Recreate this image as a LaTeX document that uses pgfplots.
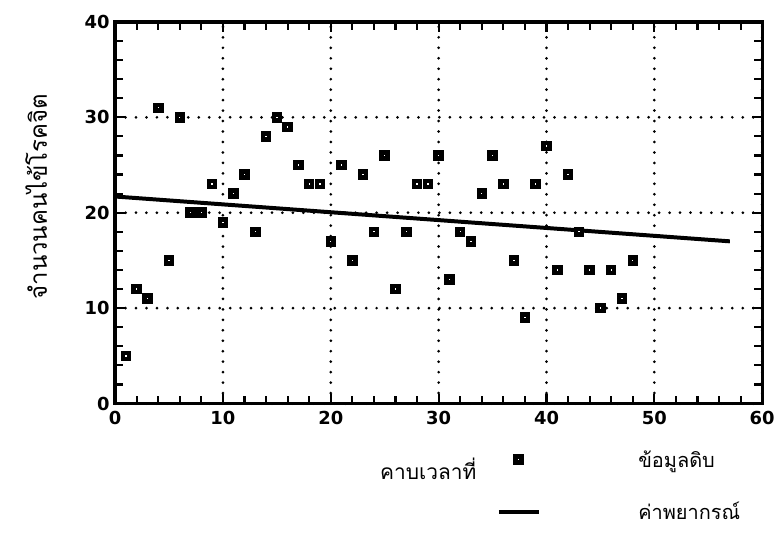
\documentclass[border=0pt]{standalone}
\usepackage{pgfplots}
\pgfplotsset{compat=1.18}
\usepackage{fontspec}
\setmainfont{DejaVu Sans}
\newfontfamily\thaifont[Script=Thai]{Loma}
\pgfplotsset{
  sqleg/.style={legend image code/.code={\draw[mark repeat=2,mark phase=2,##1] plot coordinates {(0pt,0pt) (20pt,0pt) (40pt,0pt)};}},
  lnleg/.style={legend image code/.code={\draw[##1] (0pt,0pt) -- (40pt,0pt);}},
}
\begin{document}
\begin{tikzpicture}
\begin{axis}[
  scale only axis,
  width=649.5pt, height=383pt,
  xmin=0, xmax=60, ymin=0, ymax=40,
  xtick={0,10,...,60}, ytick={0,10,...,40},
  minor x tick num=4, minor y tick num=4,
  tick align=inside,
  major tick length=10pt, minor tick length=8pt,
  every tick/.style={black, line width=2.2pt},
  axis line style={line width=3.4pt},
  grid=major,
  major grid style={black, line width=3pt, line cap=round, dash pattern=on 0pt off 10.5pt},
  /pgf/number format/assume math mode=true,
  tick label style={font=\bfseries\fontsize{18}{18}\selectfont},
  xticklabel style={yshift=-4pt},
  yticklabel style={xshift=-2pt},
  xlabel={\thaifont\fontsize{21}{21}\selectfont คาบเวลาที่},
  ylabel={\thaifont\fontsize{24}{24}\selectfont จำนวนคนไข้โรคจิต},
  x label style={at={(axis description cs:0.484,-0.17)}, anchor=center},
  y label style={at={(axis description cs:-0.122,0.542)}, anchor=center},
  legend style={at={(axis description cs:0.585,-0.112)}, anchor=north west, draw=none, fill=none,
    font=\thaifont\fontsize{20}{20}\selectfont, row sep=30pt,
    /tikz/every odd column/.append style={column sep=96pt}},
  legend cell align=left,
  clip=false,
]
\addplot[only marks, mark=square*, mark size=3pt, mark options={fill=white, draw=black, line width=4.6pt}, sqleg]
  coordinates {
(1,5)(2,12)(3,11)(4,31)(5,15)(6,30)(7,20)(8,20)(9,23)(10,19)(11,22)(12,24)
(13,18)(14,28)(15,30)(16,29)(17,25)(18,23)(19,23)(20,17)(21,25)(22,15)(23,24)(24,18)
(25,26)(26,12)(27,18)(28,23)(29,23)(30,26)(31,13)(32,18)(33,17)(34,22)(35,26)(36,23)
(37,15)(38,9)(39,23)(40,27)(41,14)(42,24)(43,18)(44,14)(45,10)(46,14)(47,11)(48,15)
  };
\addlegendentry{ข้อมูลดิบ}
\addplot[black, line width=4pt, lnleg]
  coordinates {(0,21.7)(57,17.0)};
\addlegendentry{ค่าพยากรณ์}
\end{axis}
\path (current axis.south west) ++(-115.5pt,-133pt) rectangle ++(778pt,538pt);
\end{tikzpicture}
\end{document}
